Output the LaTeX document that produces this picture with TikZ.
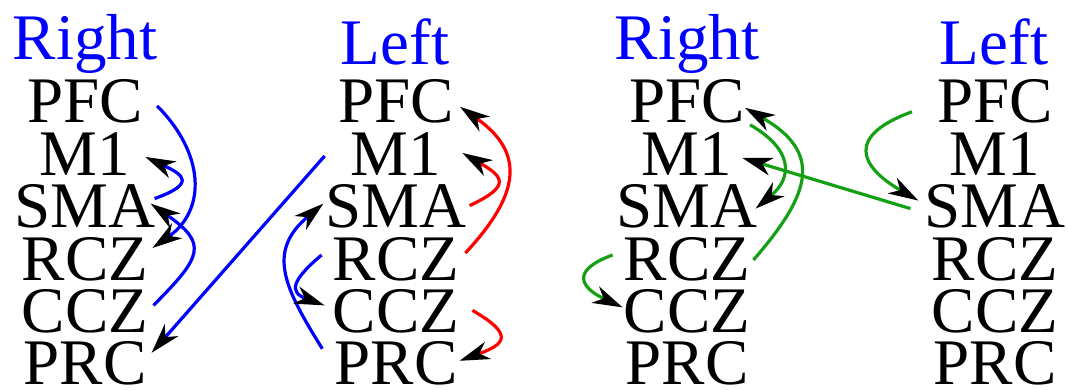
\documentclass[tikz,border=0pt]{standalone}
\usepackage{fontspec}
\setmainfont{Liberation Serif}
\usepackage{tikz}
\usetikzlibrary{arrows.meta,calc,positioning}
\definecolor{link_blue}{RGB}{0,0,255}
\definecolor{link_red}{RGB}{255,0,0}
\definecolor{link_green}{RGB}{20,160,20}

\begin{document}
\begin{tikzpicture}[font=\fontsize{65}{65}\selectfont,
    link/.style={line width=3.2pt,-{Stealth[black,length=30pt,width=18pt,inset=9pt]}},
    title/.style={text=link_blue}]

        \begin{scope}[x={(1pt,0)},y={(0,1pt)},nodes={anchor=base,inner sep=0pt}]
            \useasboundingbox (0,0) rectangle (1068,390);

            \draw[] (85, 330) node[title] (title_right) {Right};
            \draw[] (85, 267) node (right_pfc) {PFC};
            \draw[] (85, 214.6) node (right_m1) {M1};
            \draw[] (85, 162.2) node (right_sma) {SMA};
            \draw[] (85, 109.8) node (right_rcz) {RCZ};
            \draw[] (85, 57.4) node (right_ccz) {CCZ};
            \draw[] (85, 5) node (right_prc) {PRC};

            \draw[] (395, 325) node[title] (title_left) {Left};
            \draw[] (396, 267) node (left_pfc) {PFC};
            \draw[] (396, 214.6) node (left_m1) {M1};
            \draw[] (396, 162.2) node (left_sma) {SMA};
            \draw[] (396, 109.8) node (left_rcz) {RCZ};
            \draw[] (396, 57.4) node (left_ccz) {CCZ};
            \draw[] (396, 5) node (left_prc) {PRC};

            \draw[] (687, 330) node[title] (title_right2) {Right};
            \draw[] (687, 267) node (right2_pfc) {PFC};
            \draw[] (687, 214.6) node (right2_m1) {M1};
            \draw[] (687, 162.2) node (right2_sma) {SMA};
            \draw[] (687, 109.8) node (right2_rcz) {RCZ};
            \draw[] (687, 57.4) node (right2_ccz) {CCZ};
            \draw[] (687, 5) node (right2_prc) {PRC};

            \draw[] (994, 325) node[title] (title_left2) {Left};
            \draw[] (995, 267) node (left2_pfc) {PFC};
            \draw[] (995, 214.6) node (left2_m1) {M1};
            \draw[] (995, 162.2) node (left2_sma) {SMA};
            \draw[] (995, 109.8) node (left2_rcz) {RCZ};
            \draw[] (995, 57.4) node (left2_ccz) {CCZ};
            \draw[] (995, 5) node (left2_prc) {PRC};

            \draw[link,link_blue] ([xshift=14pt,yshift=-4pt]right_pfc.east) to[out=-45,in=35,looseness=1.2] ([xshift=4pt,yshift=11pt]right_rcz.east);
            \draw[link,link_blue] ([xshift=-1pt,yshift=8pt]right_sma.east) to[out=20,in=-25,looseness=2.6] ([xshift=15pt,yshift=-3pt]right_m1.east);
            \draw[link,link_blue] ([xshift=5pt,yshift=6pt]right_ccz.east) to[out=45,in=-35,looseness=1.75] ([xshift=-5pt,yshift=3pt]right_sma.east);
            \draw[link,link_blue] ([xshift=-26pt,yshift=-2pt]left_m1.west) -- ([xshift=5pt,yshift=11pt]right_prc.east);

            \draw[link,link_red] ([xshift=3pt,yshift=1pt]left_sma.east) to[out=25,in=-30,looseness=2.26] ([xshift=21pt,yshift=1pt]left_m1.east);
            \draw[link,link_red] ([xshift=6pt,yshift=6pt]left_rcz.east) to[out=47,in=-35,looseness=1.4] ([xshift=6pt,yshift=-5pt]left_pfc.east);
            \draw[link,link_red] ([xshift=13pt,yshift=1pt]left_ccz.east) to[out=-30,in=20,looseness=2.4] ([xshift=2pt,yshift=3pt]left_prc.east);
            \draw[link,link_blue] ([xshift=-12pt,yshift=15pt]left_prc.west) to[out=122,in=-140,looseness=1.3] ([xshift=-2pt,yshift=3pt]left_sma.west);
            \draw[link,link_blue] ([xshift=-11pt,yshift=4pt]left_rcz.west) to[out=220,in=160,looseness=1.95] ([xshift=-8pt,yshift=6pt]left_ccz.west);

            \draw[link,link_green] ([xshift=3pt,yshift=-1pt]right2_rcz.east) to[out=49,in=-30,looseness=1.5] ([yshift=-6pt]right2_pfc.east);
            \draw[link,link_green] ([xshift=5pt,yshift=-23pt]right2_pfc.east) to[out=-30,in=40,looseness=1.5] ([xshift=-2pt,yshift=-2pt]right2_sma.east);
            \draw[link,link_green] ([xshift=-14pt,yshift=-2pt]left2_sma.west) -- ([xshift=10pt,yshift=-4pt]right2_m1.east);
            \draw[link,link_green] ([xshift=-11pt,yshift=4pt]right2_rcz.west) to[out=200,in=155,looseness=2.2] ([xshift=-1pt,yshift=4pt]right2_ccz.west);
            \draw[link,link_green] ([xshift=-25pt,yshift=-10pt]left2_pfc.west) to[out=200,in=150,looseness=2] ([xshift=-6pt,yshift=6pt]left2_sma.west);

        \end{scope}
    \end{tikzpicture}
\end{document}
